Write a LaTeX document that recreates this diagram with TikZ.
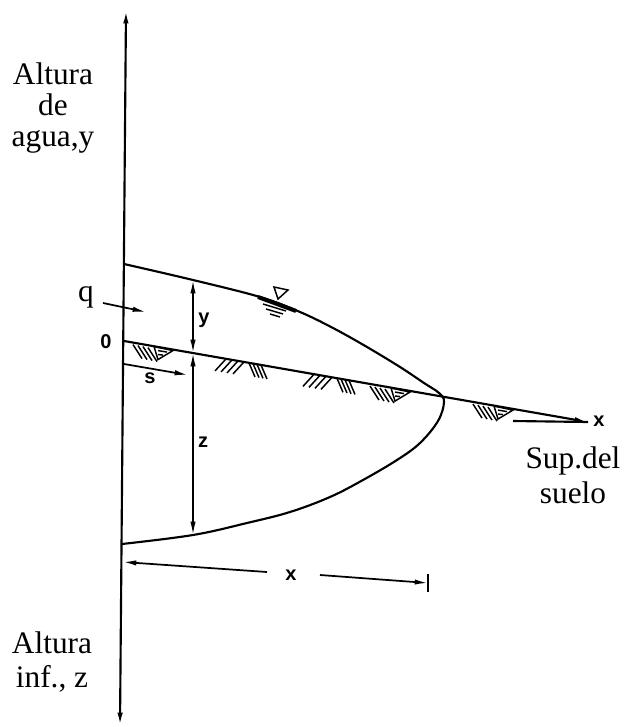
\documentclass[tikz,border=0pt]{standalone}
\usepackage{fontspec}
\setmainfont{Liberation Serif}
\newfontfamily\lblsans{Liberation Sans}
\usetikzlibrary{arrows.meta}

\begin{document}
\begin{tikzpicture}[
  x=0.75pt,y=-0.75pt,
  big/.style={font=\fontsize{23.5}{23}\selectfont,align=center,inner sep=0pt},
  lbl/.style={font=\lblsans\bfseries\fontsize{15}{15}\selectfont,inner sep=0pt},
  ax/.style={line width=1.6pt},
  arr/.style={-{Latex[length=10pt,width=4pt]},line width=1.3pt},
  dim/.style={{Latex[length=10pt,width=4pt]}-{Latex[length=10pt,width=4pt]},line width=1.2pt},
  hatch/.style={line width=1.1pt}
]
\useasboundingbox (0,0) rectangle (624,727);
% --- axis ---
\coordinate (atop) at (126,10);
\coordinate (abot) at (120,726);
\draw[ax,{Latex[length=10pt,width=4pt]}-{Latex[length=10pt,width=4pt]}] (abot) -- (atop);
% --- ground surface ---
\coordinate (g0) at (124,341);
\coordinate (gx) at (588,422);
\coordinate (gh) at (513,421);
\draw[ax,-{Latex[length=10pt,width=4pt]}] (g0) -- (gx);
\draw[ax] (gh) -- (gx);
% --- water profile ---
\draw[ax] plot[smooth,tension=0.6] coordinates {(124,264) (193,280) (260,297)
  (300,312) (333,328) (367,347) (400,367) (424,383) (439,393) (444,402)
  (438,421) (420,443) (397,460) (363,480) (330,497) (290,512) (247,523)
  (193,535) (122,544)};
% water mark
\draw[hatch] (274,287) -- (288,290) -- (278,299) -- cycle;
\draw[line width=3pt] (258,297) -- (296,311);
\draw[hatch] (263,304) -- (286,311) (266,309) -- (283,314) (270,314) -- (280,317);
% --- ground marks ---
\foreach \hx in {215,303}{
  \pgfmathsetmacro\hy{341+0.175*(\hx-124)}
  \foreach \i in {0,...,3}
    \draw[hatch] (\hx+11+6*\i,\hy+2+\i) -- ++(-11,12);
  \foreach \i in {0,...,3}
    \draw[hatch] (\hx+34+4*\i,\hy+6+0.7*\i) -- ++(6,14);
}
\foreach \hx in {133,370,473}{
  \pgfmathsetmacro\hy{341+0.175*(\hx-124)}
  \foreach \i in {0,...,3}
    \draw[hatch] (\hx+5*\i,\hy+2+\i) -- ++(9,14);
  \draw[hatch] (\hx+21,\hy+4) -- (\hx+40,\hy+8) -- (\hx+25,\hy+17) -- cycle;
  \draw[hatch] (\hx+25,\hy+8) -- (\hx+34,\hy+9.5) (\hx+25,\hy+12) -- (\hx+30,\hy+12.5);
}
% --- arrows ---
\coordinate (q0) at (103,303);
\coordinate (q1) at (146,312);
\draw[arr] (q0) -- (q1);
\coordinate (s0) at (124,364);
\coordinate (s1) at (188,375);
\draw[arr] (s0) -- (s1);
\coordinate (wy) at (193,280);
\coordinate (gy) at (193,353);
\coordinate (bz) at (193,535);
\draw[dim] (wy) -- (gy);
\draw[dim] (gy) -- (bz);
% x dimension
\coordinate (xl) at (123,562);
\coordinate (xm) at (267,572);
\coordinate (xn) at (320,575);
\coordinate (xr) at (428,583);
\draw[arr] (xm) -- (xl);
\draw[arr] (xn) -- (xr);
\draw[line width=1.2pt] (xr) ++(0,-9) -- ++(0,18);
% --- labels ---
\node[big](lup) at (53,108){Altura\\de\\agua,y};
\node[big,font=\fontsize{23.5}{25.5}\selectfont](llow) at (52,662){Altura\\inf., z};
\node[big,font=\fontsize{23.5}{26}\selectfont](lsup) at (573,475){Sup.del\\suelo};
\node[big](lq) at (86,297){q};
\node[lbl](l0) at (106,342){0};
\node[lbl](ly) at (204,320){y};
\node[lbl](lz) at (203,442){z};
\node[lbl](ls) at (150,378){s};
\node[lbl](lxr) at (599,421){x};
\node[lbl](lxb) at (291,575){x};
\end{tikzpicture}
\end{document}
